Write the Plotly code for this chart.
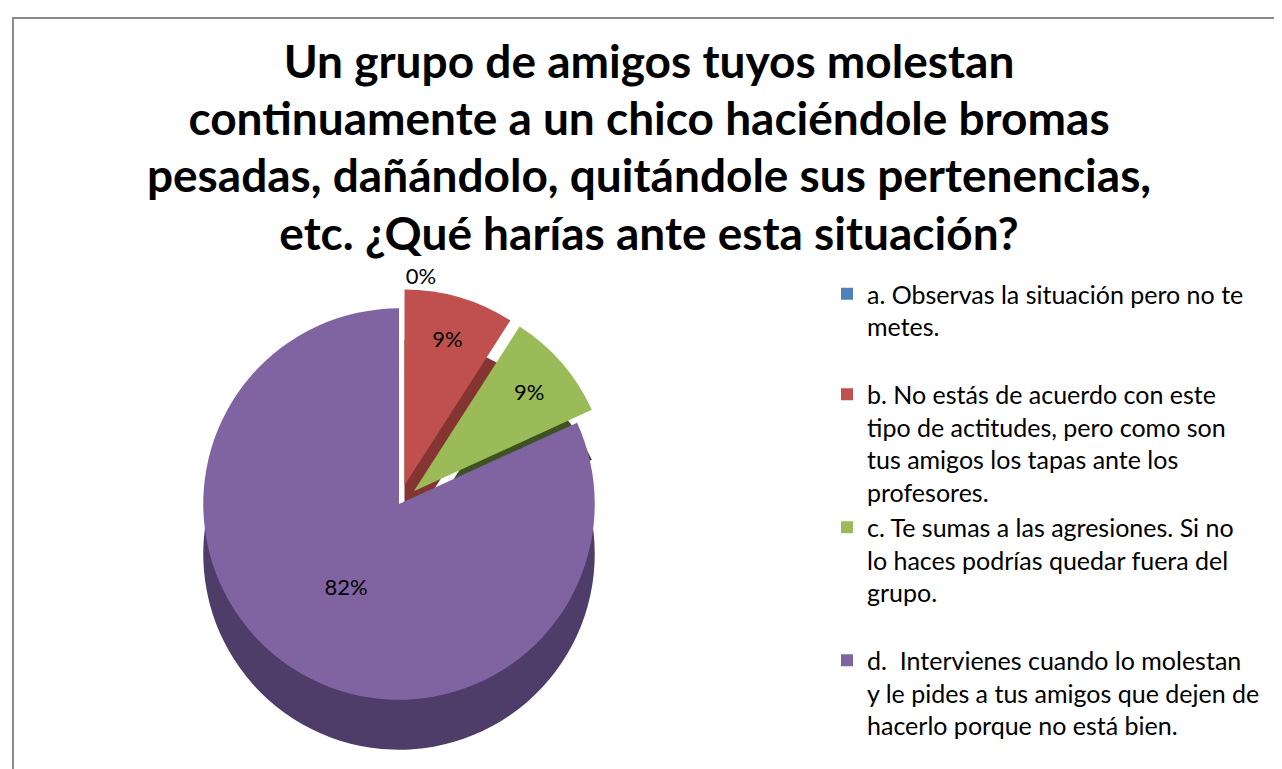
import plotly.graph_objects as go

labels = [
    "a. Observas la situación pero no te<br>metes.<br> ",
    "b. No estás de acuerdo con este<br>tipo de actitudes, pero como son<br>tus amigos los tapas ante los<br>profesores.",
    "c. Te sumas a las agresiones. Si no<br>lo haces podrías quedar fuera del<br>grupo.<br> ",
    "d.  Intervienes cuando lo molestan<br>y le pides a tus amigos que dejen de<br>hacerlo porque no está bien.",
]
values = [0, 1, 1, 9]
colors = ["#4F81BD", "#C0504D", "#9BBB59", "#8064A2"]
side_colors = ["#2F4F78", "#843532", "#3F5224", "#4E3D68"]
pulls = [0.1, 0.1, 0.1, 0.0]
text_pos = ["outside", "inside", "inside", "inside"]

title_lines = [
    "Un grupo de amigos tuyos molestan",
    "continuamente a un chico haciéndole bromas",
    "pesadas, dañándolo, quitándole sus pertenencias,",
    "etc. ¿Qué harías ante esta situación?",
]

W, H = 1282, 769
dom_x = [0.0, 0.61]
dom_y = [0.075, 0.635]
depth = 0.065

fig = go.Figure()

# side wall (depth) copy
fig.add_trace(go.Pie(
    labels=labels, values=values, sort=False, direction="clockwise", rotation=0,
    pull=pulls, marker=dict(colors=side_colors, line=dict(width=0)),
    textinfo="none", showlegend=False, hoverinfo="skip",
    domain=dict(x=dom_x, y=[dom_y[0] - depth, dom_y[1] - depth]),
))

# top face
fig.add_trace(go.Pie(
    labels=labels, values=values, sort=False, direction="clockwise", rotation=0,
    pull=pulls, marker=dict(colors=colors, line=dict(width=0)),
    texttemplate="%{percent:.0%}", textposition=text_pos,
    textfont=dict(family="Lato", size=22, color="#000000"),
    insidetextorientation="horizontal",
    domain=dict(x=dom_x, y=dom_y),
))

title_text = "<br>".join(
    '<span style="font-size:46px">' + t + "</span>" for t in title_lines
)

fig.update_layout(
    width=W, height=H,
    margin=dict(l=0, r=0, t=0, b=0, autoexpand=False),
    paper_bgcolor="white", plot_bgcolor="white",
    title=dict(
        text=title_text,
        x=0.5, xanchor="center", xref="paper",
        y=1 - 70 / H, yanchor="top", yref="container",
        font=dict(family="Lato", size=44, color="#000000", weight="bold"),
    ),
    legend=dict(
        x=819 / W, xanchor="left", y=1 - 263 / H, yanchor="top",
        font=dict(family="Lato", size=25, color="#000000"),
        bgcolor="rgba(0,0,0,0)", traceorder="normal", valign="top",
    ),
    shapes=[dict(
        type="rect", xref="paper", yref="paper",
        x0=5 / W, x1=1274 / W, y0=-0.05, y1=1 - 10 / H,
        line=dict(color="#8C8C8C", width=2), fillcolor="rgba(0,0,0,0)",
        layer="below",
    )],
)

fig.write_html("out.html")
